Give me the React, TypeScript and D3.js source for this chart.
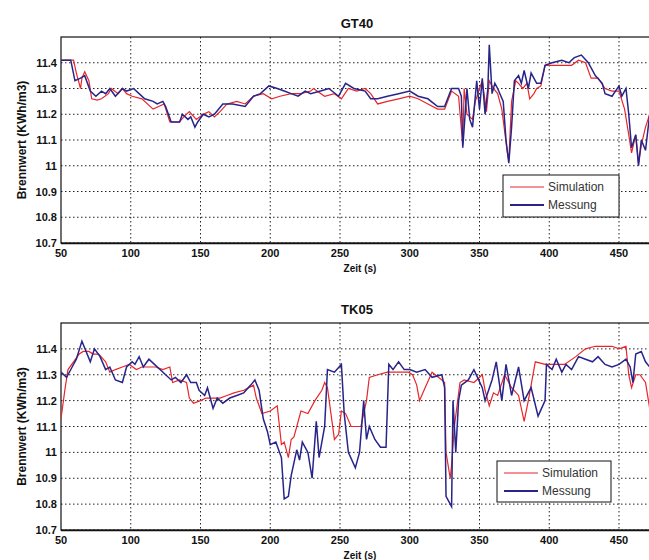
import React, { useRef, useEffect } from "react";
import { select, scaleLinear, line, curveLinear } from "d3";

// ---- data ----
const xTicks = [50, 100, 150, 200, 250, 300, 350, 400, 450];
const yTicks = [10.7, 10.8, 10.9, 11, 11.1, 11.2, 11.3, 11.4];
const yTickLabels = ["10.7", "10.8", "10.9", "11", "11.1", "11.2", "11.3", "11.4"];
const seriesNames = ["Simulation", "Messung"];
const chartTitles = ["GT40", "TK05"];

const gt40Simulation: [number, number][] = [
  [50, 11.41], [59, 11.41], [61, 11.36], [64, 11.3], [65, 11.34], [67, 11.365], [70, 11.33], [72, 11.26],
  [76, 11.255], [79, 11.26], [84, 11.28], [86, 11.3], [91, 11.28], [94, 11.3], [97, 11.28], [101, 11.27],
  [108, 11.26], [116, 11.22], [120, 11.23], [124, 11.24], [128, 11.17], [135, 11.17], [138, 11.19],
  [142, 11.21], [147, 11.18], [152, 11.2], [156, 11.21], [160, 11.19], [164, 11.21], [169, 11.24],
  [176, 11.25], [182, 11.24], [188, 11.27], [195, 11.28], [201, 11.26], [207, 11.27], [215, 11.28],
  [222, 11.28], [229, 11.29], [231, 11.3], [239, 11.27], [246, 11.28], [251, 11.26], [256, 11.3],
  [262, 11.29], [268, 11.3], [272, 11.28], [277, 11.24], [284, 11.25], [292, 11.26], [300, 11.27],
  [306, 11.26], [313, 11.24], [320, 11.22], [325, 11.22], [330, 11.29], [335, 11.27], [338, 11.08],
  [339, 11.3], [341, 11.2], [345, 11.18], [347, 11.25], [350, 11.3], [352, 11.33], [355, 11.21],
  [357, 11.33], [360, 11.3], [363, 11.28], [366, 11.22], [370, 11.05], [371, 11.02], [373, 11.25],
  [376, 11.33], [378, 11.32], [381, 11.3], [384, 11.32], [386, 11.26], [389, 11.28], [391, 11.3],
  [394, 11.31], [397, 11.39], [402, 11.39], [409, 11.39], [416, 11.39], [421, 11.41], [426, 11.4],
  [430, 11.34], [435, 11.34], [440, 11.3], [445, 11.29], [450, 11.29], [454, 11.22], [457, 11.12],
  [459, 11.05], [462, 11.12], [464, 11.01], [466, 11.08], [469, 11.15], [472, 11.2],
];

const gt40Messung: [number, number][] = [
  [50, 11.41], [57, 11.41], [60, 11.33], [64, 11.34], [67, 11.35], [71, 11.29], [75, 11.27], [79, 11.29],
  [82, 11.28], [85, 11.3], [89, 11.27], [94, 11.3], [97, 11.29], [102, 11.3], [106, 11.28], [110, 11.26],
  [116, 11.25], [119, 11.24], [123, 11.25], [125, 11.23], [129, 11.17], [135, 11.17], [137, 11.2],
  [141, 11.18], [143, 11.19], [146, 11.15], [148, 11.17], [152, 11.2], [156, 11.19], [160, 11.2],
  [166, 11.24], [173, 11.24], [182, 11.23], [188, 11.27], [193, 11.28], [199, 11.31], [205, 11.3],
  [210, 11.29], [215, 11.28], [220, 11.27], [225, 11.29], [229, 11.28], [236, 11.29], [242, 11.3],
  [249, 11.27], [254, 11.32], [260, 11.3], [268, 11.29], [272, 11.26], [277, 11.26], [284, 11.27],
  [292, 11.28], [300, 11.29], [306, 11.27], [313, 11.26], [320, 11.23], [325, 11.23], [330, 11.3],
  [335, 11.3], [337, 11.27], [338, 11.07], [341, 11.3], [343, 11.18], [345, 11.15], [348, 11.33],
  [350, 11.22], [352, 11.34], [354, 11.2], [356, 11.3], [357, 11.47], [359, 11.28], [361, 11.32],
  [363, 11.3], [367, 11.25], [369, 11.1], [371, 11.01], [373, 11.15], [375, 11.33], [378, 11.35],
  [380, 11.32], [382, 11.37], [385, 11.3], [387, 11.36], [391, 11.32], [394, 11.32], [397, 11.39],
  [402, 11.4], [409, 11.41], [414, 11.4], [418, 11.42], [423, 11.43], [428, 11.4], [433, 11.35],
  [438, 11.32], [440, 11.28], [445, 11.27], [450, 11.31], [452, 11.27], [455, 11.3], [457, 11.2],
  [459, 11.07], [462, 11.12], [464, 11.0], [466, 11.1], [469, 11.06], [472, 11.2],
];

const tk05Simulation: [number, number][] = [
  [50, 11.13], [53, 11.25], [55, 11.32], [59, 11.35], [63, 11.38], [66, 11.39], [70, 11.39], [73, 11.38],
  [77, 11.38], [82, 11.35], [85, 11.31], [89, 11.32], [94, 11.33], [99, 11.34], [104, 11.32],
  [108, 11.33], [113, 11.33], [118, 11.33], [123, 11.32], [128, 11.33], [130, 11.27], [135, 11.28],
  [140, 11.27], [142, 11.21], [145, 11.19], [150, 11.2], [154, 11.21], [159, 11.21], [164, 11.21],
  [169, 11.22], [174, 11.23], [181, 11.24], [188, 11.26], [190, 11.21], [194, 11.15], [200, 11.16],
  [205, 11.18], [208, 11.03], [210, 11.04], [213, 10.98], [215, 11.05], [217, 11.06], [222, 11.16],
  [227, 11.15], [232, 11.2], [237, 11.24], [239, 11.27], [241, 11.25], [246, 11.05], [249, 11.07],
  [251, 11.16], [254, 11.15], [258, 11.1], [265, 11.1], [269, 11.2], [271, 11.29], [277, 11.3],
  [284, 11.31], [292, 11.31], [299, 11.31], [302, 11.3], [305, 11.26], [307, 11.2], [311, 11.25],
  [316, 11.31], [323, 11.28], [325, 11.27], [326, 11.0], [329, 10.9], [330, 10.95], [332, 11.1],
  [336, 11.27], [339, 11.28], [346, 11.27], [352, 11.3], [354, 11.24], [357, 11.18], [360, 11.23],
  [363, 11.22], [368, 11.3], [373, 11.25], [378, 11.22], [382, 11.12], [385, 11.2], [390, 11.35],
  [397, 11.34], [404, 11.34], [411, 11.34], [419, 11.37], [426, 11.4], [433, 11.41], [445, 11.41],
  [450, 11.4], [455, 11.41], [457, 11.3], [459, 11.25], [462, 11.3], [465, 11.3], [469, 11.27],
  [472, 11.17],
];

const tk05Messung: [number, number][] = [
  [50, 11.31], [54, 11.29], [58, 11.33], [61, 11.36], [65, 11.43], [68, 11.39], [71, 11.35], [74, 11.4],
  [78, 11.37], [82, 11.32], [85, 11.33], [89, 11.28], [94, 11.27], [97, 11.33], [101, 11.35],
  [103, 11.34], [106, 11.37], [109, 11.33], [113, 11.36], [117, 11.34], [121, 11.32], [125, 11.3],
  [129, 11.28], [132, 11.29], [136, 11.27], [140, 11.3], [143, 11.27], [147, 11.27], [149, 11.24],
  [153, 11.22], [155, 11.25], [159, 11.17], [162, 11.21], [166, 11.19], [171, 11.21], [176, 11.22],
  [181, 11.23], [186, 11.26], [189, 11.28], [192, 11.24], [195, 11.13], [198, 11.08], [200, 11.03],
  [204, 11.04], [208, 10.98], [210, 10.82], [213, 10.83], [215, 10.91], [219, 11.01], [221, 10.97],
  [223, 11.04], [227, 11.0], [230, 10.9], [233, 11.12], [235, 10.98], [239, 11.1], [241, 11.32],
  [246, 11.31], [251, 11.34], [253, 11.15], [256, 11.0], [261, 10.94], [264, 11.0], [267, 11.2],
  [269, 11.05], [271, 11.1], [275, 11.05], [279, 11.02], [283, 11.02], [285, 11.34], [288, 11.32],
  [292, 11.35], [296, 11.32], [300, 11.32], [305, 11.31], [311, 11.32], [316, 11.29], [323, 11.3],
  [325, 11.25], [326, 10.83], [330, 10.79], [331, 11.2], [333, 11.0], [335, 11.2], [337, 11.26],
  [342, 11.28], [346, 11.32], [352, 11.25], [354, 11.2], [359, 11.28], [362, 11.35], [366, 11.2],
  [369, 11.34], [373, 11.22], [378, 11.33], [382, 11.2], [387, 11.25], [392, 11.14], [397, 11.2],
  [398, 11.34], [402, 11.32], [405, 11.36], [409, 11.31], [412, 11.34], [416, 11.32], [421, 11.37],
  [426, 11.36], [431, 11.35], [435, 11.37], [440, 11.34], [445, 11.33], [450, 11.34], [455, 11.36],
  [458, 11.33], [460, 11.27], [462, 11.38], [466, 11.39], [469, 11.35], [472, 11.33],
];

const charts = [
  { title: chartTitles[0], sim: gt40Simulation, mess: gt40Messung, top: 37, bottom: 243, legend: [503, 175, 116, 42] },
  { title: chartTitles[1], sim: tk05Simulation, mess: tk05Messung, top: 323, bottom: 530, legend: [497, 461, 114, 41] },
];

const W = 649, H = 560;
const left = 61, right = 652;
const red = "#e8262a";
const blue = "#27248a";
const font = "'Liberation Sans', Arial, sans-serif";

export default function App() {
  const svgRef = useRef<SVGSVGElement>(null);

  useEffect(() => {
    const svg = select(svgRef.current);
    svg.selectAll("*").remove();

    const x = scaleLinear().domain([50, 450]).range([left, 619]);

    charts.forEach((c, ci) => {
      const y = scaleLinear().domain([10.7, 11.5]).range([c.bottom, c.top]);
      const g = svg.append("g");

      g.append("clipPath").attr("id", "clip" + ci)
        .append("rect").attr("x", left).attr("y", c.top).attr("width", right - left).attr("height", c.bottom - c.top);

      // grid
      xTicks.slice(1).forEach(t => {
        g.append("line").attr("x1", x(t)).attr("x2", x(t)).attr("y1", c.top).attr("y2", c.bottom)
          .attr("stroke", "#222").attr("stroke-dasharray", "1.5,2.5");
      });
      yTicks.forEach(t => {
        g.append("line").attr("x1", left).attr("x2", right).attr("y1", y(t)).attr("y2", y(t))
          .attr("stroke", "#222").attr("stroke-dasharray", "1.5,2.5");
      });

      // frame
      g.append("rect").attr("x", left).attr("y", c.top).attr("width", right - left).attr("height", c.bottom - c.top)
        .attr("fill", "none").attr("stroke", "#111").attr("stroke-width", 1.2);
      g.append("line").attr("x1", left).attr("x2", right).attr("y1", c.bottom + 0.5).attr("y2", c.bottom + 0.5)
        .attr("stroke", "#111").attr("stroke-width", 1.5);

      // tick labels
      xTicks.forEach(t => {
        g.append("text").text(String(t)).attr("x", x(t)).attr("y", c.bottom + 14)
          .attr("text-anchor", "middle").attr("font-family", font).attr("font-weight", "bold")
          .attr("font-size", 11).attr("fill", "#111");
      });
      yTicks.forEach((t, i) => {
        g.append("text").text(yTickLabels[i]).attr("x", 57).attr("y", y(t) + 4)
          .attr("text-anchor", "end").attr("font-family", font).attr("font-weight", "bold")
          .attr("font-size", 11).attr("fill", "#111");
      });

      // titles
      g.append("text").text(c.title).attr("x", 357).attr("y", c.top - 9)
        .attr("text-anchor", "middle").attr("font-family", font).attr("font-weight", "bold")
        .attr("font-size", 13).attr("fill", "#111");
      g.append("text").text("Zeit (s)").attr("x", 360).attr("y", c.bottom + 29)
        .attr("text-anchor", "middle").attr("font-family", font).attr("font-weight", "bold")
        .attr("font-size", 10).attr("fill", "#111");
      const cy = (c.top + c.bottom) / 2;
      g.append("text").text("Brennwert (KWh/m3)")
        .attr("transform", `translate(26,${cy}) rotate(-90)`)
        .attr("text-anchor", "middle").attr("font-family", font).attr("font-weight", "bold")
        .attr("font-size", 12).attr("fill", "#111");

      // lines
      const ln = line<[number, number]>().x(d => x(d[0])).y(d => y(d[1])).curve(curveLinear);
      const lg = g.append("g").attr("clip-path", `url(#clip${ci})`);
      lg.append("path").attr("d", ln(c.sim)).attr("fill", "none").attr("stroke", red).attr("stroke-width", 1.2);
      lg.append("path").attr("d", ln(c.mess)).attr("fill", "none").attr("stroke", blue).attr("stroke-width", 1.5);

      // legend
      const [lx, ly, lw, lh] = c.legend;
      g.append("rect").attr("x", lx).attr("y", ly).attr("width", lw).attr("height", lh)
        .attr("fill", "#fff").attr("stroke", "#111").attr("stroke-width", 1);
      [red, blue].forEach((col, i) => {
        const yy = ly + 12 + i * 18;
        g.append("line").attr("x1", lx + 7).attr("x2", lx + 41).attr("y1", yy).attr("y2", yy)
          .attr("stroke", col).attr("stroke-width", i === 0 ? 1 : 2);
        g.append("text").text(seriesNames[i]).attr("x", lx + 45).attr("y", yy + 4)
          .attr("font-family", font).attr("font-size", 12).attr("fill", "#333");
      });
    });
  }, []);

  return (
    <svg ref={svgRef} width={W} height={H}
      style={{ position: "absolute", left: 0, top: 0, background: "#fff" }}>
    </svg>
  );
}
